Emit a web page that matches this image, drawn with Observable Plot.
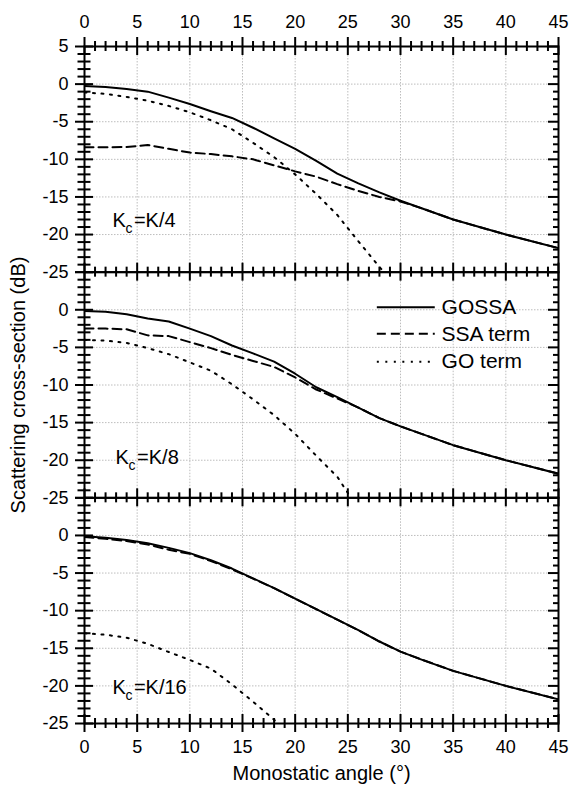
<!DOCTYPE html>
<html><head><meta charset="utf-8">
<script src="https://cdn.jsdelivr.net/npm/d3@7"></script>
<script src="https://cdn.jsdelivr.net/npm/@observablehq/plot@0.6"></script>
<style>body{margin:0;background:#fff}#chart{width:570px;height:785px}</style>
</head><body><div id="chart"></div>
<script>
// ---------- data ----------
const panels = ["K/4", "K/8", "K/16"];
const seriesNames = ["GOSSA", "SSA term", "GO term"];
const angle = [0, 2, 4, 6, 8, 10, 12, 14, 16, 18, 20, 22, 24, 26, 28, 30, 32, 35, 40, 45];

const gossa_K4 = [-0.25, -0.4, -0.65, -1.0, -1.8, -2.65, -3.6, -4.5, -5.8, -7.2, -8.6, -10.2, -11.9, -13.2, -14.4, -15.5, -16.5, -18.0, -20.0, -21.8];
const ssa_K4   = [-8.4, -8.4, -8.35, -8.1, -8.6, -9.1, -9.3, -9.6, -10.0, -10.8, -11.6, -12.3, -13.3, -14.2, -15.0, -15.6, -16.5, -18.0, -20.0, -21.8];
const go_K4    = [-1.1, -1.3, -1.7, -2.2, -2.9, -3.75, -4.8, -6.0, -7.8, -9.7, -12.0, -14.6, -17.4, -20.9, -24.3, -27.5, null, null, null, null];

const gossa_K8 = [-0.15, -0.25, -0.6, -1.15, -1.55, -2.5, -3.5, -4.75, -5.8, -6.9, -8.5, -10.3, -11.6, -13.0, -14.4, -15.5, -16.5, -18.0, -20.0, -21.8];
const ssa_K8   = [-2.5, -2.5, -2.6, -3.4, -3.5, -4.3, -5.1, -6.0, -6.8, -7.6, -9.0, -10.6, -11.8, -13.0, -14.4, -15.5, -16.5, -18.0, -20.0, -21.8];
const go_K8    = [-4.0, -4.1, -4.4, -5.1, -5.9, -7.0, -8.1, -9.9, -11.9, -14.0, -16.5, -19.4, -22.2, -26.5, null, null, null, null, null, null];

const gossa_K16 = [-0.1, -0.3, -0.6, -1.05, -1.65, -2.35, -3.3, -4.4, -5.7, -7.0, -8.4, -9.8, -11.2, -12.6, -14.1, -15.45, -16.5, -18.0, -20.0, -21.8];
const ssa_K16   = [-0.2, -0.45, -0.75, -1.2, -1.9, -2.45, -3.4, -4.5, -5.75, -7.0, -8.4, -9.8, -11.2, -12.6, -14.1, -15.45, -16.5, -18.0, -20.0, -21.8];
const go_K16    = [-13.0, -13.2, -13.6, -14.4, -15.5, -16.55, -17.7, -19.8, -22.1, -24.5, -28.0, null, null, null, null, null, null, null, null, null];

const xTicks = [0, 5, 10, 15, 20, 25, 30, 35, 40, 45];
const yTicksTop = [5, 0, -5, -10, -15, -20, -25];
const yTicks = [0, -5, -10, -15, -20, -25];
const xTitle = "Monostatic angle (°)";
const yTitle = "Scattering cross-section (dB)";
const panelLabelMain = "K";
const panelLabelSub = "c";
const panelLabelRest = ["=K/4", "=K/8", "=K/16"];

// ---------- layout ----------
const W = 570, H = 785, mt = 46, mb = 62, ml = 84, mr = 12;
const fh = (H - mt - mb) / 3, fw = W - ml - mr;
const font = "Liberation Sans, Arial, Helvetica, sans-serif";
const labelPos = [{x: 2.65, y: -18.2}, {x: 2.95, y: -19.7}, {x: 2.65, y: -20.2}];
const legendPos = {x1: 27.8, x2: 33.3, tx: 33.9, y: [0.35, -3.2, -6.9]};
const styles = [
  {strokeDasharray: null},
  {strokeDasharray: "9,5"},
  {strokeDasharray: "2,6.5"}
];

const seriesByPanel = [[gossa_K4, ssa_K4, go_K4], [gossa_K8, ssa_K8, go_K8], [gossa_K16, ssa_K16, go_K16]];
const rows = panels.flatMap((p, i) => seriesNames.flatMap((s, j) =>
  angle.map((a, k) => ({panel: p, series: s, angle: a, value: seriesByPanel[i][j][k]}))
       .filter(d => d.value != null)));

const xMinor = d3.range(0, 46).filter(v => v % 5 !== 0);
const yAll = d3.range(-25, 6);
const yMajorAll = yAll.filter(v => v % 5 === 0);
const yMinor = yAll.filter(v => v % 5 !== 0);
const xGrid = xTicks.filter(v => v > 0 && v < 45);
const yGrid = yTicks.filter(v => v > -25);

const pTop = panels[0], pMid = panels[1], pBot = panels[2];
const xTopRows = xTicks.map(v => ({v, panel: pTop}));
const xTopMinorRows = xMinor.map(v => ({v, panel: pTop}));
const xBottomLabels = xTicks.map(v => ({v, panel: pBot}));
const yLabelRows = panels.flatMap((p, i) => (i === 0 ? yTicksTop : yTicks).map(v => ({v, panel: p})));
const labelRows = panels.map((p, i) => ({panel: p, ...labelPos[i], rest: panelLabelRest[i]}));

const T = {fill: "black", lineAnchor: "middle"};
const marks = [
  Plot.ruleX(xGrid, {x: d => d, stroke: "#bdbdbd", strokeWidth: 1, strokeDasharray: "1.5,1.5"}),
  Plot.ruleY(yGrid, {y: d => d, stroke: "#bdbdbd", strokeWidth: 1, strokeDasharray: "1.5,1.5"}),
];
seriesNames.forEach((s, j) => {
  marks.push(Plot.line(rows.filter(d => d.series === s), {
    x: "angle", y: "value", fy: "panel", z: "panel", stroke: "black", strokeWidth: 2,
    strokeDasharray: styles[j].strokeDasharray, clip: true
  }));
  marks.push(Plot.ruleY([{panel: pMid, v: legendPos.y[j]}], {
    y: "v", x1: legendPos.x1, x2: legendPos.x2, fy: "panel", stroke: "black", strokeWidth: 2,
    strokeDasharray: styles[j].strokeDasharray
  }));
  marks.push(Plot.text([{panel: pMid, v: legendPos.y[j], t: s}], {
    ...T, x: legendPos.tx, y: "v", fy: "panel", text: "t", textAnchor: "start", fontSize: 21
  }));
});
marks.push(
  Plot.frame({stroke: "black", strokeWidth: 2}),
  Plot.tickX(xTopRows, {x: "v", fy: "panel", insetBottom: fh - 18, dy: -9, strokeWidth: 2}),
  Plot.tickX(xTopMinorRows, {x: "v", fy: "panel", insetBottom: fh - 10, dy: -5, strokeWidth: 2}),
  Plot.tickX(xTicks, {x: d => d, insetTop: fh - 18, dy: 9, strokeWidth: 2}),
  Plot.tickX(xMinor, {x: d => d, insetTop: fh - 10, dy: 5, strokeWidth: 2}),
  Plot.tickY(yMajorAll, {y: d => d, insetRight: fw - 18, dx: -9, strokeWidth: 2}),
  Plot.tickY(yMinor, {y: d => d, insetRight: fw - 13, dx: -6.5, strokeWidth: 2}),
  Plot.tickY(yMajorAll, {y: d => d, insetLeft: fw - 10, strokeWidth: 2}),
  Plot.tickY(yMinor, {y: d => d, insetLeft: fw - 5, strokeWidth: 2}),
  Plot.text(xTopRows, {...T, x: "v", fy: "panel", text: d => String(d.v), frameAnchor: "top", dy: -24, fontSize: 18}),
  Plot.text(xBottomLabels, {...T, x: "v", fy: "panel", text: d => String(d.v), frameAnchor: "bottom", dy: 24, fontSize: 18}),
  Plot.text(yLabelRows, {...T, y: "v", fy: "panel", text: d => String(d.v), frameAnchor: "left", dx: -16, textAnchor: "end", fontSize: 18}),
  Plot.text([{panel: pMid, t: yTitle}], {...T, fy: "panel", text: "t", frameAnchor: "left", textAnchor: "middle", dx: -66, rotate: -90, fontSize: 20}),
  Plot.text([{panel: pBot, t: xTitle}], {...T, fy: "panel", text: "t", frameAnchor: "bottom", textAnchor: "middle", dy: 50, fontSize: 20}),
  Plot.text(labelRows, {...T, x: "x", y: "y", fy: "panel", text: () => panelLabelMain, textAnchor: "start", fontSize: 20}),
  Plot.text(labelRows, {...T, x: "x", y: "y", fy: "panel", text: () => panelLabelSub, textAnchor: "start", dx: 13, dy: 8, fontSize: 14}),
  Plot.text(labelRows, {...T, x: "x", y: "y", fy: "panel", text: "rest", textAnchor: "start", dx: 21.5, fontSize: 20})
);

const chart = Plot.plot({
  width: W, height: H,
  marginTop: mt, marginBottom: mb, marginLeft: ml, marginRight: mr,
  style: {fontFamily: font, background: "white", color: "black"},
  x: {domain: [0, 45], axis: null},
  y: {domain: [-25, 5], axis: null},
  fy: {domain: panels, padding: 0, axis: null, round: false},
  marks
});
document.getElementById("chart").appendChild(chart);
</script>
</body></html>
